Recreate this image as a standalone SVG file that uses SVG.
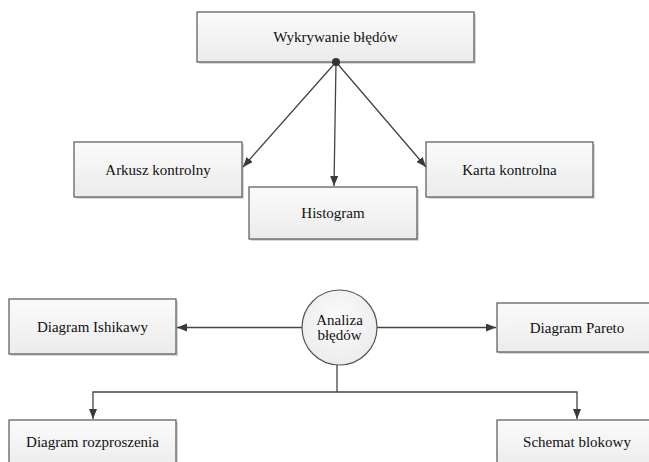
<svg xmlns="http://www.w3.org/2000/svg" width="649" height="462" viewBox="0 0 649 462">
  <defs>
    <linearGradient id="boxFill" x1="0" y1="0" x2="0" y2="1">
      <stop offset="0" stop-color="#fbfbfb"/>
      <stop offset="1" stop-color="#ebebeb"/>
    </linearGradient>
    <radialGradient id="circleFill" cx="0.5" cy="0.4" r="0.6">
      <stop offset="0" stop-color="#fbfbfb"/>
      <stop offset="1" stop-color="#ececec"/>
    </radialGradient>
    <marker id="arrow" markerWidth="11" markerHeight="9" refX="10" refY="4" orient="auto" markerUnits="userSpaceOnUse">
      <path d="M0,0 L10,4 L0,8 z" fill="#3a3a3a"/>
    </marker>
  </defs>
  <style>
    .shadow { fill: #c8c8c8; opacity: 0.7; }
    .box { fill: url(#boxFill); stroke: #555; stroke-width: 1.2; }
    .circ { fill: url(#circleFill); stroke: #555; stroke-width: 1.2; }
    .lbl { font-family: "Liberation Serif", "Times New Roman", serif; font-size: 15px; fill: #111; text-anchor: middle; }
    .conn { fill: none; stroke: #444; stroke-width: 1.3; }
  </style>
  <rect width="649" height="462" fill="#ffffff"/>

  <!-- error detection branch -->
  <g id="wykrywanie">
    <rect class="shadow" x="199" y="14" width="277" height="50"/>
    <rect class="box" x="197" y="12" width="277" height="50"/>
    <text class="lbl" x="335.5" y="42">Wykrywanie błędów</text>
  </g>
  <g id="arkusz">
    <rect class="shadow" x="76" y="144" width="168" height="55"/>
    <rect class="box" x="74" y="142" width="168" height="55"/>
    <text class="lbl" x="158" y="174.5">Arkusz kontrolny</text>
  </g>
  <g id="histogram">
    <rect class="shadow" x="251" y="189" width="168" height="52"/>
    <rect class="box" x="249" y="187" width="168" height="52"/>
    <text class="lbl" x="333" y="218">Histogram</text>
  </g>
  <g id="karta">
    <rect class="shadow" x="428" y="144" width="167" height="55"/>
    <rect class="box" x="426" y="142" width="167" height="55"/>
    <text class="lbl" x="509.5" y="174.5">Karta kontrolna</text>
  </g>

  <!-- error analysis branch -->
  <g id="ishikawa">
    <rect class="shadow" x="11" y="301" width="167" height="55"/>
    <rect class="box" x="9" y="299" width="167" height="55"/>
    <text class="lbl" x="92.5" y="331.5">Diagram Ishikawy</text>
  </g>
  <g id="analiza">
    <circle class="circ" cx="339.5" cy="327.5" r="37.5"/>
    <text class="lbl" x="339.5" y="325">Analiza</text>
    <text class="lbl" x="339.5" y="340">błędów</text>
  </g>
  <g id="pareto">
    <rect class="shadow" x="499" y="305" width="160" height="49"/>
    <rect class="box" x="497" y="303" width="160" height="49"/>
    <text class="lbl" x="577" y="332.5">Diagram Pareto</text>
  </g>
  <g id="rozproszenie">
    <rect class="shadow" x="11" y="422" width="167" height="50"/>
    <rect class="box" x="9" y="420" width="167" height="50"/>
    <text class="lbl" x="92.5" y="447">Diagram rozproszenia</text>
  </g>
  <g id="schemat">
    <rect class="shadow" x="499" y="422" width="160" height="50"/>
    <rect class="box" x="497" y="420" width="160" height="50"/>
    <text class="lbl" x="577" y="447">Schemat blokowy</text>
  </g>

  <g id="connectors">
    <line class="conn" x1="336" y1="62" x2="243" y2="167" marker-end="url(#arrow)"/>
    <line class="conn" x1="336" y1="62" x2="334" y2="186" marker-end="url(#arrow)"/>
    <line class="conn" x1="336" y1="62" x2="426" y2="167" marker-end="url(#arrow)"/>
    <circle cx="336" cy="62" r="4" fill="#333"/>
    <line class="conn" x1="302" y1="327.5" x2="177" y2="327.5" marker-end="url(#arrow)"/>
    <line class="conn" x1="377" y1="327.5" x2="496" y2="327.5" marker-end="url(#arrow)"/>
    <polyline class="conn" points="337,365 337,392"/>
    <polyline class="conn" points="337,392 93,392 93,419" marker-end="url(#arrow)"/>
    <polyline class="conn" points="337,392 577,392 577,419" marker-end="url(#arrow)"/>
  </g>
</svg>
